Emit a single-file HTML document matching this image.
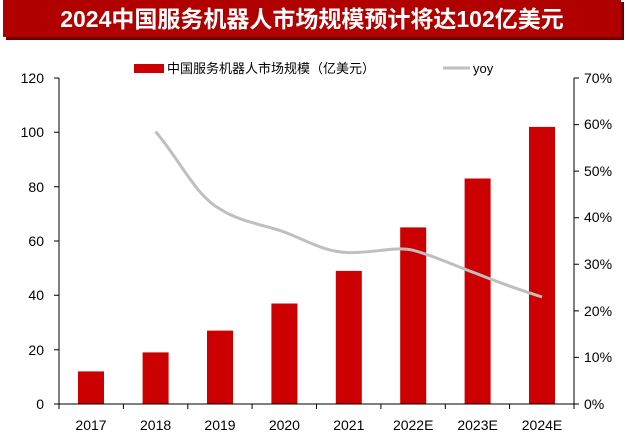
<!DOCTYPE html><html><head><meta charset="utf-8"><style>body{margin:0;background:#fff;width:627px;height:441px;overflow:hidden;font-family:"Liberation Sans","Noto Sans CJK SC",sans-serif}</style></head><body>
<svg width="627" height="441" xmlns="http://www.w3.org/2000/svg" font-family="Liberation Sans, Noto Sans CJK SC, sans-serif">
<rect x="6" y="2" width="618" height="38" fill="#6a0000"/>
<rect x="3" y="0" width="618" height="37" fill="#b10000"/>
<text x="312" y="27" fill="#fff" font-size="23" font-weight="bold" text-anchor="middle">2024中国服务机器人市场规模预计将达102亿美元</text>
<rect x="134" y="64" width="30" height="9" fill="#cc0000"/>
<text x="167" y="73" font-size="13" fill="#000">中国服务机器人市场规模（亿美元）</text>
<line x1="443" y1="68" x2="470" y2="68" stroke="#bfbfbf" stroke-width="3"/>
<text x="473" y="73" font-size="13" fill="#000">yoy</text>
<g fill="#cc0000">
<rect x="78" y="371.4" width="26" height="32.6"/>
<rect x="142.6" y="352.4" width="26" height="51.6"/>
<rect x="207" y="330.6" width="26" height="73.4"/>
<rect x="271.4" y="303.5" width="26" height="100.5"/>
<rect x="335.8" y="270.9" width="26" height="133.1"/>
<rect x="400.2" y="227.4" width="26" height="176.6"/>
<rect x="464.6" y="178.5" width="26" height="225.5"/>
<rect x="529" y="126.9" width="26" height="277.1"/>
</g>
<g stroke="#000" stroke-width="1" fill="none">
<path d="M59 78V404H574V78"/>
<path d="M54 78H59M54 132.3H59M54 186.7H59M54 241H59M54 295.3H59M54 349.7H59M54 404H59"/>
<path d="M574 78H579M574 124.6H579M574 171.1H579M574 217.7H579M574 264.3H579M574 310.9H579M574 357.4H579M574 404H579"/>
<path d="M59 404V409M123.4 404V409M187.8 404V409M252.1 404V409M316.5 404V409M380.9 404V409M445.3 404V409M509.6 404V409M574 404V409"/>
</g>
<g font-size="14" text-anchor="end" fill="#000">
<text x="44" y="83">120</text><text x="44" y="137">100</text><text x="44" y="192">80</text><text x="44" y="246">60</text><text x="44" y="300">40</text><text x="44" y="355">20</text><text x="44" y="409">0</text>
</g>
<g font-size="14" fill="#000">
<text x="584" y="83">70%</text><text x="584" y="129">60%</text><text x="584" y="176">50%</text><text x="584" y="222">40%</text><text x="584" y="269">30%</text><text x="584" y="316">20%</text><text x="584" y="362">10%</text><text x="584" y="409">0%</text>
</g>
<g font-size="14" text-anchor="middle" fill="#000">
<text x="91" y="430">2017</text><text x="155.6" y="430">2018</text><text x="220" y="430">2019</text><text x="284.4" y="430">2020</text><text x="348.8" y="430">2021</text><text x="413.2" y="430">2022E</text><text x="477.6" y="430">2023E</text><text x="542" y="430">2024E</text>
</g>
<path d="M155.6 131.6C180 160 195 195 220 209 C240 222 265 225 284.4 232 C310 242 325 252 348.8 252.6 C375 253 395 246 413.2 250.3 C435 256 455 266 477.6 274 C500 283 520 290 542 297" fill="none" stroke="#bfbfbf" stroke-width="3"/>
</svg>
</body></html>
